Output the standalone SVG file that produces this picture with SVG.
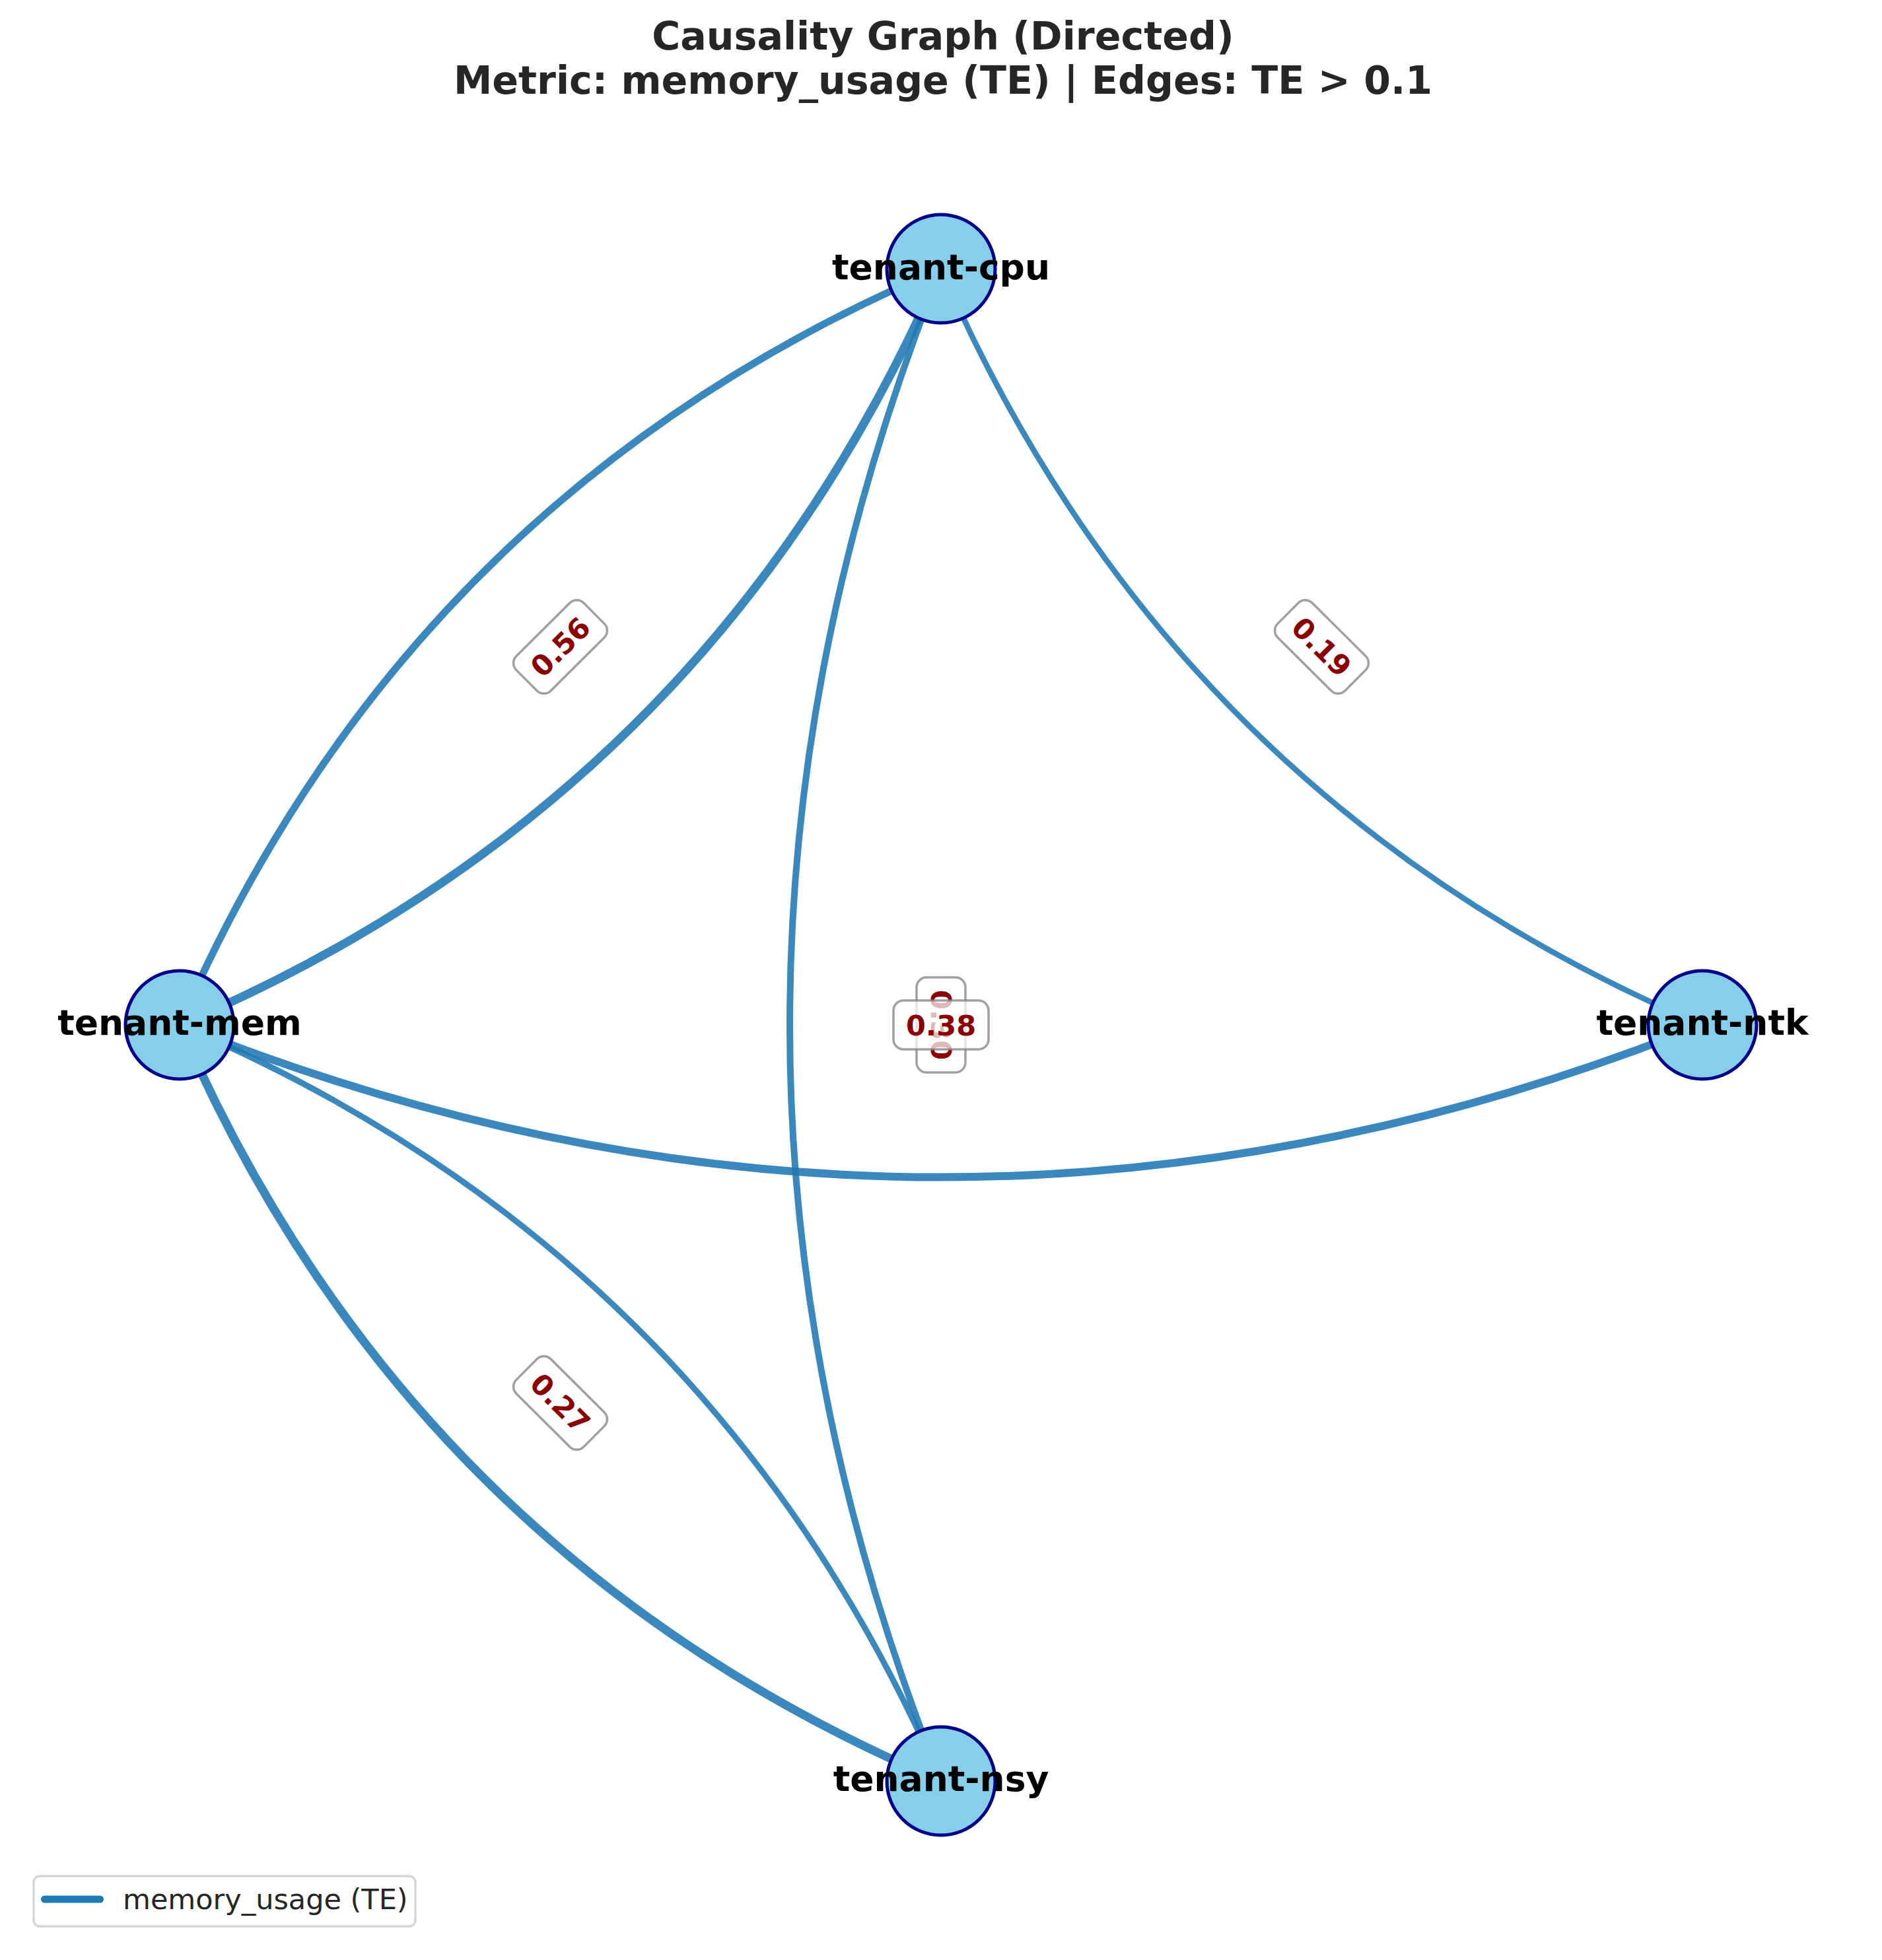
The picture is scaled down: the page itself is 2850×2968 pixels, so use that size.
<svg xmlns="http://www.w3.org/2000/svg" width="2850" height="2968" viewBox="0 0 2850 2968">
<style>
.title{font-family:"DejaVu Sans","Liberation Sans",sans-serif;font-weight:bold;font-size:58.6px;fill:#262626;text-anchor:middle}
.edge{fill:none;stroke:#1f77b4;stroke-opacity:0.88;stroke-linecap:butt}
.node circle{fill:#87ceeb;stroke:#00008b;stroke-width:5}
.node text{font-family:"DejaVu Sans","Liberation Sans",sans-serif;font-weight:bold;font-size:53.5px;fill:#000;text-anchor:middle}
.lbl rect{fill:#fff;fill-opacity:0.72;stroke:#808080;stroke-opacity:0.75;stroke-width:3.5}
.lbl text{font-family:"DejaVu Sans","Liberation Sans",sans-serif;font-weight:bold;font-size:43px;fill:#8b0000;text-anchor:middle}
.leg{font-family:"DejaVu Sans","Liberation Sans",sans-serif;font-size:43px;fill:#262626}
</style>
<rect width="2850" height="2968" fill="#fff"/>
<g id="title">
<text class="title" x="1428" y="75">Causality Graph (Directed)</text>
<text class="title" x="1428" y="142">Metric: memory_usage (TE) | Edges: TE &gt; 0.1</text>
</g>
<g id="connectors">
<path class="edge" stroke-width="11" d="M1425,407 Q619.5,748.9 272,1552"/>
<path class="edge" stroke-width="13" d="M272,1552 Q1077.5,1210.1 1425,407"/>
<path class="edge" stroke-width="8.5" d="M1425,407 Q1772.5,1210.1 2578,1552"/>
<path class="edge" stroke-width="10" d="M1425,407 Q967,1552 1425,2697"/>
<path class="edge" stroke-width="12" d="M272,1552 Q1425,2013.2 2578,1552"/>
<path class="edge" stroke-width="13" d="M272,1552 Q619.5,2355.1 1425,2697"/>
<path class="edge" stroke-width="9" d="M1425,2697 Q1077.5,1893.9 272,1552"/>
</g>
<g id="edge-labels">
<g class="lbl" transform="translate(848.5,979.5) rotate(-44.8)"><rect x="-72" y="-37" width="144" height="74" rx="15"/><text y="15.5">0.56</text></g>
<g class="lbl" transform="translate(2001.5,979.5) rotate(44.8)"><rect x="-72" y="-37" width="144" height="74" rx="15"/><text y="15.5">0.19</text></g>
<g class="lbl" transform="translate(848.5,2124.5) rotate(44.8)"><rect x="-72" y="-37" width="144" height="74" rx="15"/><text y="15.5">0.27</text></g>
<g class="lbl" transform="translate(1425,1552) rotate(90)"><rect x="-72" y="-37" width="144" height="74" rx="15"/><text y="15.5">0.30</text></g>
<g class="lbl" transform="translate(1425,1552)"><rect x="-72" y="-37" width="144" height="74" rx="15"/><text y="15.5">0.38</text></g>
</g>
<g id="node-cpu" class="node"><circle cx="1425" cy="407" r="82"/><text x="1425" y="423">tenant-cpu</text></g>
<g id="node-mem" class="node"><circle cx="272" cy="1552" r="82"/><text x="272" y="1567">tenant-mem</text></g>
<g id="node-ntk" class="node"><circle cx="2578" cy="1552" r="82"/><text x="2578" y="1567">tenant-ntk</text></g>
<g id="node-nsy" class="node"><circle cx="1425" cy="2697" r="82"/><text x="1425" y="2712">tenant-nsy</text></g>
<g id="legend">
<rect x="51" y="2841" width="578" height="76" rx="9" fill="#fff" stroke="#d6d6d6" stroke-width="3.5"/>
<line x1="67.5" y1="2876" x2="151.5" y2="2876" stroke="#1f77b4" stroke-width="11" stroke-linecap="round"/>
<text class="leg" x="186" y="2891">memory_usage (TE)</text>
</g>
</svg>
